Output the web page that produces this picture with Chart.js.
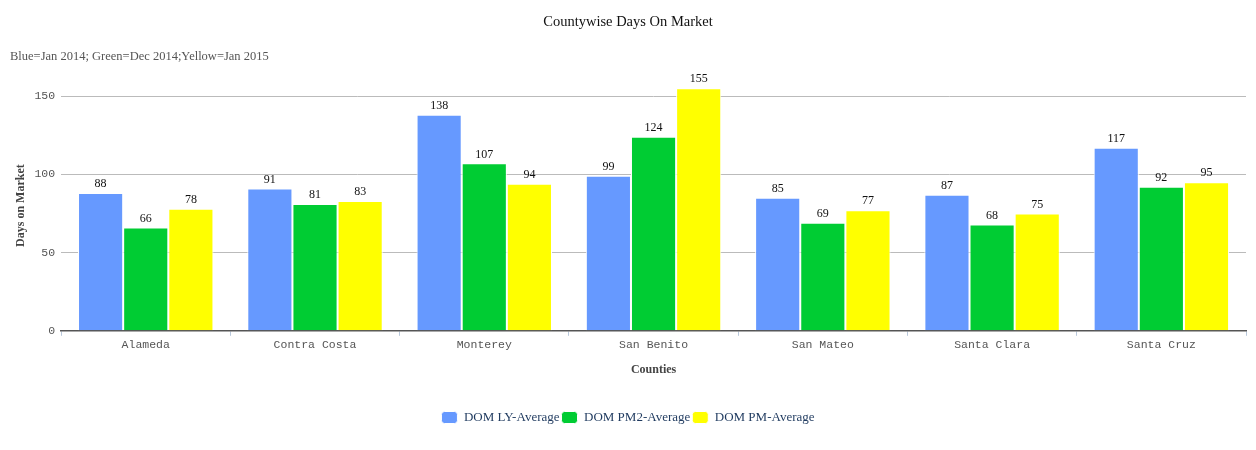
<!DOCTYPE html>
<html lang="en">
<head>
    <meta charset="UTF-8">
    <title>Countywise Days On Market</title>
    <script src="https://cdn.jsdelivr.net/npm/chart.js@4.4.1/dist/chart.umd.min.js"></script>
    <style>
        *{margin:0; padding:0;}
        body{background:#fff;}
        #wrap{width:1256px; height:450px; position:relative;}
    </style>
</head>
<body>
    <div id="wrap">
        <canvas id="barChart"></canvas>
    </div>

    <script>
        const counties = ['Alameda', 'Contra Costa', 'Monterey', 'San Benito', 'San Mateo', 'Santa Clara', 'Santa Cruz']
        const domLY = [88, 91, 138, 99, 85, 87, 117]
        const domPM2 = [66, 81, 107, 124, 69, 68, 92]
        const domPM = [78, 83, 94, 155, 77, 75, 95]
        const yTicks = [0, 50, 100, 150]

        const serif = '"Liberation Serif", "DejaVu Serif", serif'
        const mono = '"Liberation Mono", "DejaVu Sans Mono", monospace'

        // value labels over each bar
        const valueLabels = {
            id:'valueLabels',
            afterDatasetsDraw:function(chart){
                const ctx = chart.ctx
                ctx.save()
                ctx.font = '12px ' + serif
                ctx.fillStyle = '#111'
                ctx.textAlign = 'center'
                ctx.textBaseline = 'bottom'
                chart.data.datasets.forEach(function(dataset, i){
                    const meta = chart.getDatasetMeta(i)
                    if(meta.hidden) return
                    meta.data.forEach(function(bar, index){
                        ctx.fillText(dataset.data[index], bar.x, bar.y - 3)
                    })
                })
                ctx.restore()
            }
        }

        const config = {
            type:'bar',
            data:{
                labels:counties,
                datasets:[
                    {label:'DOM LY-Average', data:domLY, backgroundColor:'#6699ff'},
                    {label:'DOM PM2-Average', data:domPM2, backgroundColor:'#00cc33'},
                    {label:'DOM PM-Average', data:domPM, backgroundColor:'#ffff00'}
                ]
            },
            options:{
                responsive:false,
                animation:false,
                datasets:{
                    bar:{
                        barPercentage:1,
                        categoryPercentage:0.8,
                        borderWidth:1,
                        borderColor:'#ffffff',
                        borderSkipped:'bottom'
                    }
                },
                layout:{
                    padding:{left:10, right:10, top:0, bottom:16}
                },
                plugins:{
                    title:{
                        display:true,
                        text:'Countywise Days On Market',
                        color:'#111',
                        font:{family:serif, size:14.5, weight:'normal'},
                        padding:{top:13, bottom:0}
                    },
                    subtitle:{
                        display:true,
                        text:'Blue=Jan 2014; Green=Dec 2014;Yellow=Jan 2015',
                        align:'start',
                        color:'#555',
                        font:{family:serif, size:12.5},
                        padding:{top:19, bottom:16}
                    },
                    legend:{
                        position:'bottom',
                        labels:{
                            color:'#1f3a5f',
                            font:{family:serif, size:13},
                            boxWidth:16,
                            boxHeight:12,
                            useBorderRadius:true,
                            borderRadius:3,
                            padding:2
                        }
                    },
                    tooltip:{enabled:false}
                },
                scales:{
                    x:{
                        grid:{
                            display:true,
                            drawOnChartArea:false,
                            drawTicks:true,
                            tickLength:5,
                            color:'#b8c8dc',
                            offset:true
                        },
                        border:{display:true, color:'#555', width:1.5},
                        ticks:{
                            color:'#555',
                            font:{family:mono, size:11.5},
                            padding:2
                        },
                        title:{
                            display:true,
                            text:'Counties',
                            color:'#444',
                            font:{family:serif, size:12, weight:'bold'},
                            padding:{top:9, bottom:32}
                        }
                    },
                    y:{
                        min:0,
                        max:160,
                        afterBuildTicks:function(scale){
                            scale.ticks = yTicks.map(function(v){ return {value:v} })
                        },
                        grid:{
                            color:'#bbbbbb',
                            drawTicks:false
                        },
                        border:{display:false},
                        ticks:{
                            color:'#555',
                            font:{family:mono, size:11.5},
                            padding:6
                        },
                        title:{
                            display:true,
                            text:'Days on Market',
                            color:'#444',
                            font:{family:serif, size:12, weight:'bold'},
                            padding:{top:4, bottom:0}
                        }
                    }
                }
            },
            plugins:[valueLabels]
        }

        const canvas = document.querySelector('#barChart')
        canvas.width = 1256
        canvas.height = 450
        const barChart = new Chart(canvas.getContext('2d'), config)
    </script>
</body>
</html>
